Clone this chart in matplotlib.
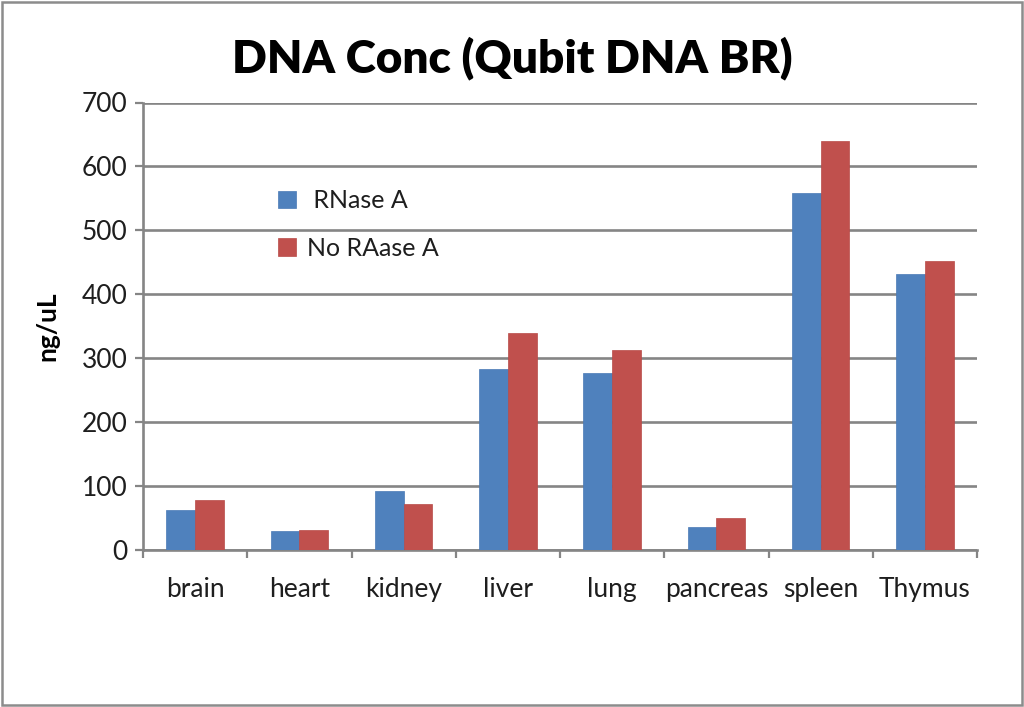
import matplotlib
matplotlib.use("Agg")
import matplotlib.pyplot as plt
import numpy as np
from matplotlib.patches import Rectangle

categories = ["brain", "heart", "kidney", "liver", "lung", "pancreas", "spleen", "Thymus"]
rnase_a = [62, 29, 92, 282, 277, 35, 558, 431]
no_rnase_a = [77, 31, 72, 339, 313, 49, 639, 452]
series_names = [" RNase A", "No RAase A"]
y_ticks = [0, 100, 200, 300, 400, 500, 600, 700]

FONT = ["Lato", "DejaVu Sans"]
plt.rcParams["font.family"] = FONT

W, H = 1024, 707
fig = plt.figure(figsize=(W / 100, H / 100), dpi=100)
fig.patch.set_facecolor("white")

# outer border
fig.patches.append(Rectangle((2 / W, 2 / H), (W - 4) / W, (H - 4) / H, transform=fig.transFigure,
                             fill=False, edgecolor="#8c8c8c", linewidth=1.8))

ax = fig.add_axes([143 / W, 1 - 549.5 / H, (977 - 143) / W, (549.5 - 102.5) / H])

x = np.arange(len(categories))
bw = 0.275
gray = "#858585"
txt = "#1e1e1e"
ax.bar(x - bw / 2, rnase_a, width=bw, color="#4F81BD", label=series_names[0], zorder=3,
       edgecolor="#4A7AB5", linewidth=0.5)
ax.bar(x + bw / 2, no_rnase_a, width=bw, color="#C0504D", label=series_names[1], zorder=3,
       edgecolor="#B84A47", linewidth=0.5)

ax.set_xlim(-0.5, len(categories) - 0.5)
ax.set_ylim(0, 700)
ax.set_yticks(y_ticks)
ax.set_yticklabels([str(v) for v in y_ticks], fontsize=19, color=txt)
ax.yaxis.grid(True, color=gray, linewidth=1.9, zorder=0)
ax.set_axisbelow(True)

ax.set_xticks(x)
ax.set_xticklabels(categories, fontsize=19, color=txt)
ax.tick_params(axis="x", which="major", length=0, pad=20)
ax.set_xticks(np.arange(len(categories) + 1) - 0.5, minor=True)
ax.tick_params(axis="x", which="minor", length=5.5, width=1.6, color=gray, direction="out")
ax.tick_params(axis="y", which="major", length=6, width=1.6, color=gray, direction="out", pad=5)

for s in ["top", "right"]:
    ax.spines[s].set_visible(False)
for s in ["left", "bottom"]:
    ax.spines[s].set_color(gray)
    ax.spines[s].set_linewidth(1.9)

ax.set_ylabel("ng/uL", fontsize=19, fontweight="bold", labelpad=16, color="black")

fig.text(512 / W, 1 - 58 / H, "DNA Conc (Qubit DNA BR)", fontsize=33, fontweight="heavy",
         ha="center", va="center", color="black")

leg = ax.legend(loc="upper left", bbox_to_anchor=((268 - 143) / (977 - 143), (549.5 - 179) / (549.5 - 102.5)),
                frameon=False, fontsize=18, handlelength=0.7, handleheight=0.7,
                labelspacing=0.98, handletextpad=0.45, borderaxespad=0)
for t in leg.get_texts():
    t.set_color(txt)

fig.savefig("out.png", dpi=100, facecolor="white")
